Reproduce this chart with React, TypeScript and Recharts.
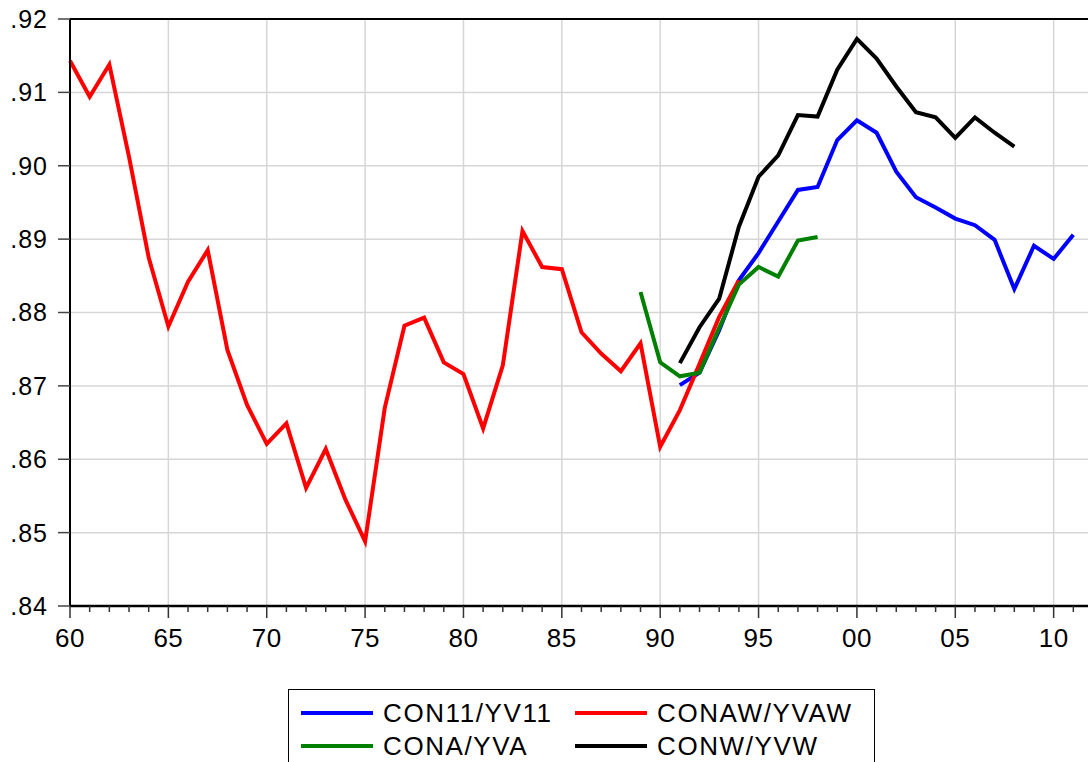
import React from 'react';
import {
  LineChart,
  Line,
  XAxis,
  YAxis,
  CartesianGrid,
  ReferenceLine
} from 'recharts';

const years = [
  1960, 1961, 1962, 1963, 1964, 1965, 1966, 1967, 1968, 1969,
  1970, 1971, 1972, 1973, 1974, 1975, 1976, 1977, 1978, 1979,
  1980, 1981, 1982, 1983, 1984, 1985, 1986, 1987, 1988, 1989,
  1990, 1991, 1992, 1993, 1994, 1995, 1996, 1997, 1998, 1999,
  2000, 2001, 2002, 2003, 2004, 2005, 2006, 2007, 2008, 2009,
  2010, 2011
];

// CONAW/YVAW, 1960-1994
const conaw = [
  0.9143, 0.9094, 0.9138, 0.9012, 0.8875, 0.8781, 0.8842, 0.8885, 0.8749, 0.8674,
  0.8621, 0.8649, 0.8561, 0.8614, 0.8545, 0.8488, 0.8670, 0.8782, 0.8793, 0.8732,
  0.8716, 0.8642, 0.8728, 0.8911, 0.8862, 0.8859, 0.8773, 0.8744, 0.8720, 0.8758,
  0.8617, 0.8667, 0.8730, 0.8794, 0.8844
];
// CONA/YVA, 1989-1998
const cona = [
  0.8828, 0.8732, 0.8713, 0.8718, 0.8779, 0.8838, 0.8862, 0.8849, 0.8898, 0.8903
];
// CON11/YV11, 1991-2011
const con11 = [
  0.8701, 0.8718, 0.8776, 0.8844, 0.8881, 0.8924, 0.8967, 0.8971, 0.9035, 0.9062,
  0.9045, 0.8992, 0.8957, 0.8943, 0.8928, 0.8919, 0.8899, 0.8832, 0.8891, 0.8873,
  0.8906
];
// CONW/YVW, 1991-2008
const conw = [
  0.8731, 0.8780, 0.8819, 0.8917, 0.8985, 0.9014, 0.9069, 0.9067, 0.9131, 0.9173,
  0.9146, 0.9108, 0.9073, 0.9066, 0.9038, 0.9066, 0.9045, 0.9026
];

const yTicks = [0.84, 0.85, 0.86, 0.87, 0.88, 0.89, 0.9, 0.91, 0.92];
const gridYears = [1965, 1970, 1975, 1980, 1985, 1990, 1995, 2000, 2005, 2010];

const series = [
  { key: 'con11', name: 'CON11/YV11', color: '#0000ff', start: 1991, values: con11 },
  { key: 'conaw', name: 'CONAW/YVAW', color: '#ff0000', start: 1960, values: conaw },
  { key: 'cona', name: 'CONA/YVA', color: '#008000', start: 1989, values: cona },
  { key: 'conw', name: 'CONW/YVW', color: '#000000', start: 1991, values: conw }
];

const data = years.map(year => {
  const row: Record<string, number | null> = { year };
  series.forEach(s => {
    const v = s.values[year - s.start];
    row[s.key] = v === undefined ? null : v;
  });
  return row;
});

const FONT = '"Liberation Sans", Arial, Helvetica, sans-serif';

const XTick = (props: any) => {
  const { x, y, payload } = props;
  const yr = payload.value as number;
  const major = yr % 5 === 0;
  return (
    <g>
      <line x1={x} x2={x} y1={y} y2={y + (major ? 12 : 6)} stroke="#333" strokeWidth={1.5} />
      {major && (
        <text x={x} y={y + 41} textAnchor="middle" fontSize={26} letterSpacing={0.5} fontFamily={FONT} fill="#000">
          {String(yr % 100).padStart(2, '0')}
        </text>
      )}
    </g>
  );
};

export default function App() {
  return (
    <div
      style={{
        position: 'absolute',
        left: 0,
        top: 0,
        width: 1088,
        height: 762,
        overflow: 'hidden',
        background: '#fff'
      }}
    >
      <LineChart
        width={1100}
        height={800}
        data={data}
        margin={{ top: 19, right: 7, bottom: 154, left: 0 }}
      >
        <CartesianGrid vertical={false} stroke="#d6d6d6" strokeWidth={1.5} />
        {gridYears.map(y => (
          <ReferenceLine key={y} x={y} stroke="#d6d6d6" strokeWidth={1.5} />
        ))}
        <ReferenceLine y={0.92} stroke="#000" strokeWidth={2} />
        <XAxis
          type="number"
          dataKey="year"
          domain={[1960, 2012]}
          ticks={years}
          interval={0}
          height={40}
          tickSize={0}
          tickMargin={0}
          tickLine={false}
          tick={<XTick />}
          axisLine={{ stroke: '#000', strokeWidth: 2.5 }}
        />
        <YAxis
          type="number"
          domain={[0.84, 0.92]}
          ticks={yTicks}
          width={70}
          tickSize={12}
          tickMargin={10}
          tickLine={{ stroke: '#444', strokeWidth: 1.5 }}
          axisLine={{ stroke: '#000', strokeWidth: 2 }}
          tick={{ fontSize: 25, fontFamily: FONT, fill: '#000', letterSpacing: 1 }}
          tickFormatter={(v: number) => v.toFixed(2).slice(1)}
        />
        {series.map(s => (
          <Line
            key={s.key}
            type="linear"
            dataKey={s.key}
            name={s.name}
            stroke={s.color}
            strokeWidth={4}
            dot={false}
            activeDot={false}
            connectNulls={false}
            isAnimationActive={false}
          />
        ))}
      </LineChart>
      <div
        style={{
          position: 'absolute',
          left: 288,
          top: 689,
          width: 587,
          height: 110,
          border: '1.5px solid #000',
          boxSizing: 'border-box',
          fontFamily: FONT
        }}
      >
        {series.map((s, i) => (
          <div
            key={s.key}
            style={{
              position: 'absolute',
              left: 12 + (i % 2) * 274,
              top: 23 + Math.floor(i / 2) * 33 - 15,
              height: 30,
              display: 'flex',
              alignItems: 'center',
              whiteSpace: 'nowrap'
            }}
          >
            <span style={{ display: 'inline-block', width: 72, height: 4, background: s.color }} />
            <span style={{ marginLeft: 10, fontSize: 26, letterSpacing: 1.6, color: '#000' }}>{s.name}</span>
          </div>
        ))}
      </div>
    </div>
  );
}
